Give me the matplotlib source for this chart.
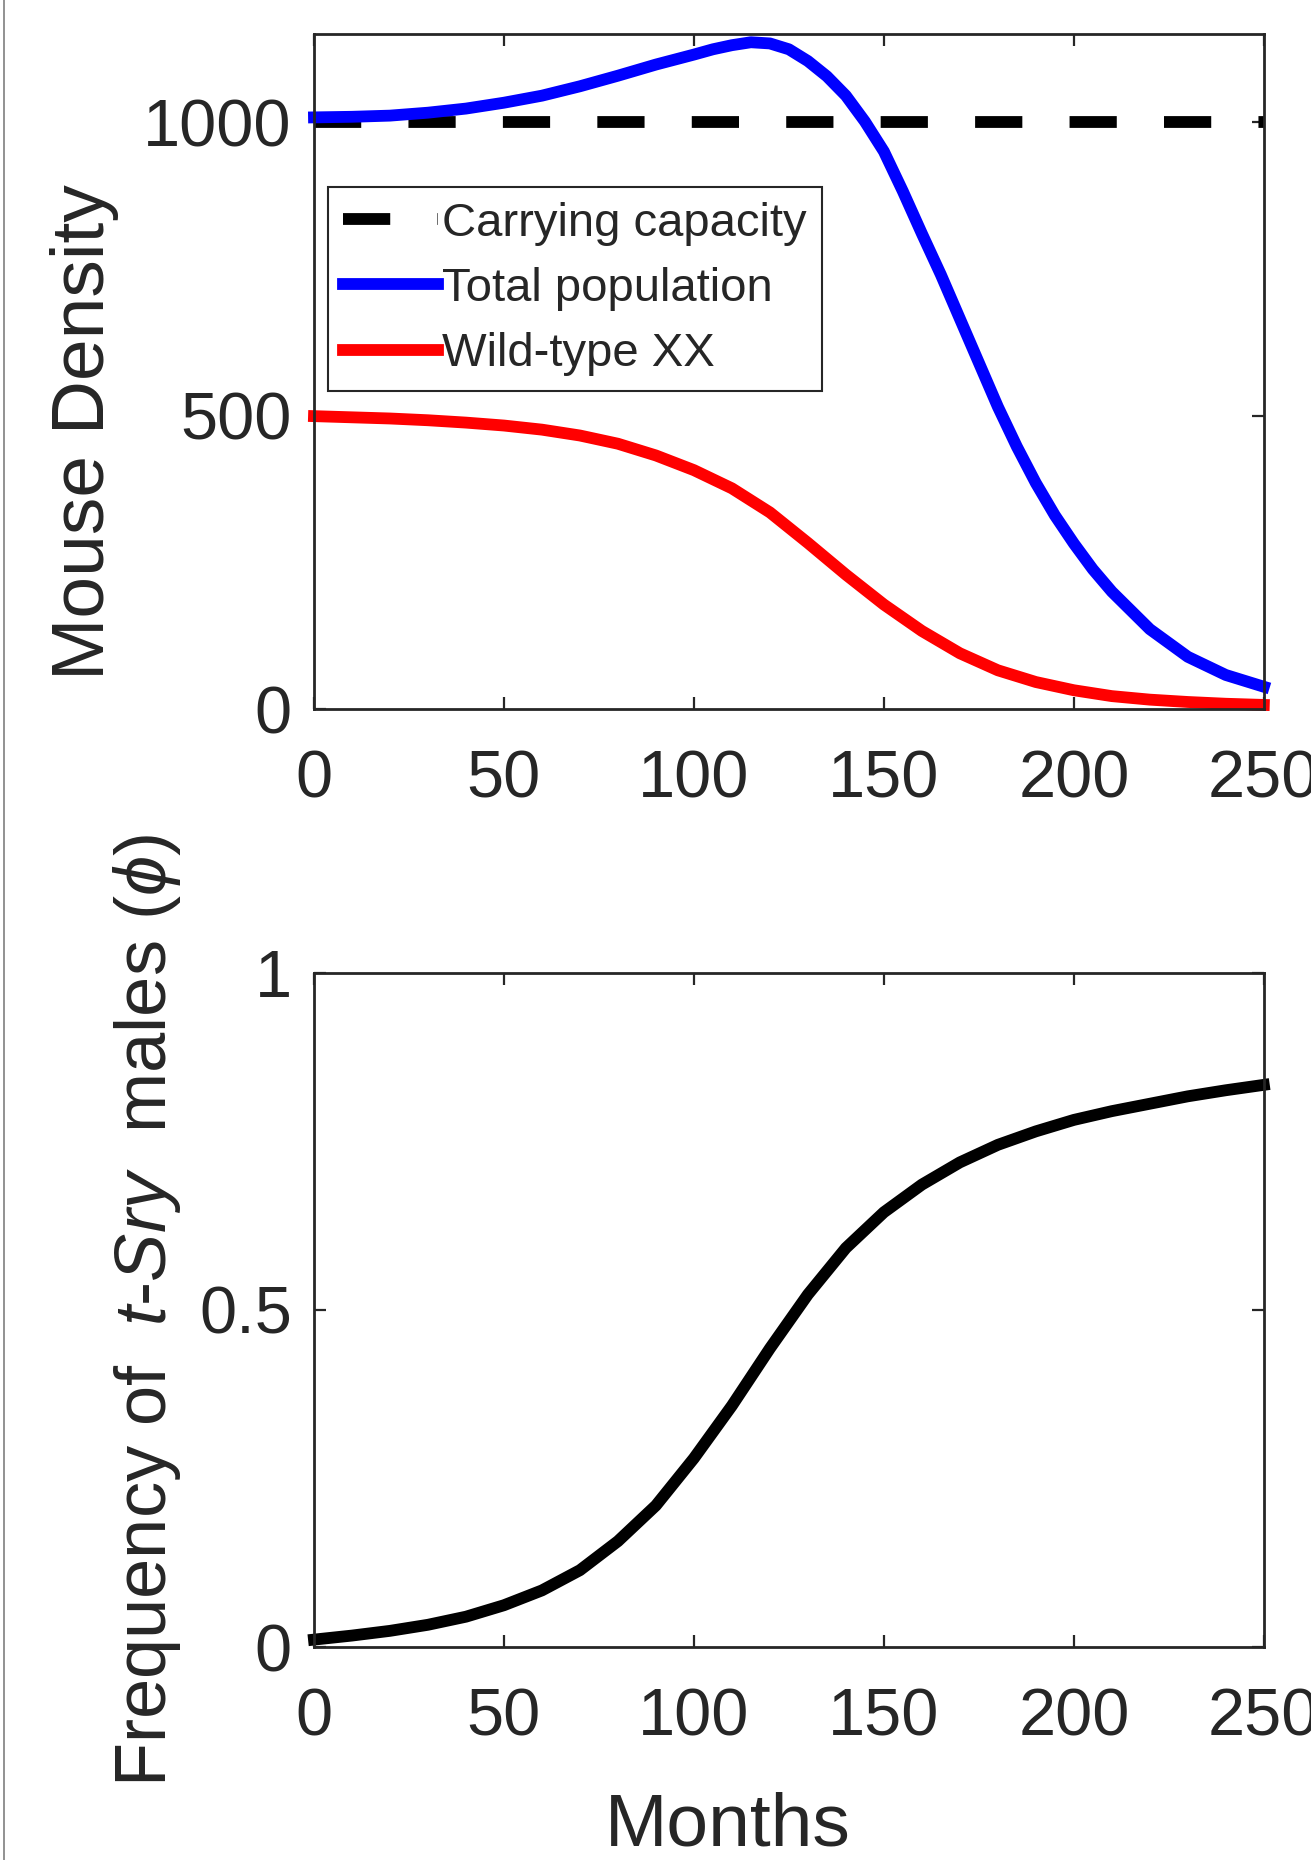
"""Mouse density and t-Sry male frequency over time
"""

import matplotlib
matplotlib.use('Agg')
import matplotlib.pyplot as plt
from matplotlib.lines import Line2D

# top panel: mouse density
months_total = [0, 10, 20, 30, 40, 50, 60, 70, 80, 90, 100, 105, 110, 115, 120,
                125, 130, 135, 140, 145, 150, 155, 160, 165, 170, 175, 180, 185,
                190, 195, 200, 205, 210, 220, 230, 240, 250]
total_population = [1008, 1009, 1011, 1016, 1023, 1033, 1045, 1061, 1079, 1098,
                    1115, 1124, 1131, 1136, 1134, 1124, 1104, 1078, 1045, 1001,
                    950, 882, 810, 740, 665, 590, 515, 447, 385, 330, 282, 238,
                    200, 136, 89, 58, 38]

months_wild = [0, 10, 20, 30, 40, 50, 60, 70, 80, 90, 100, 110, 120, 130, 140,
               150, 160, 170, 180, 190, 200, 210, 220, 230, 240, 250]
wild_type_xx = [499, 497, 495, 492, 488, 483, 476, 466, 452, 432, 407, 376, 335,
                283, 229, 178, 133, 95, 66, 46, 32, 22, 16, 12, 9, 7]

capacity_months = [0, 250]
carrying_capacity = [1000, 1000]

# bottom panel: frequency of t-Sry males
months_freq = [0, 10, 20, 30, 40, 50, 60, 70, 80, 90, 100, 110, 120, 130, 140,
               150, 160, 170, 180, 190, 200, 210, 220, 230, 240, 250]
tsry_freq = [0.011, 0.017, 0.024, 0.033, 0.045, 0.062, 0.084, 0.114, 0.157,
             0.210, 0.280, 0.358, 0.443, 0.523, 0.592, 0.645, 0.686, 0.719,
             0.745, 0.765, 0.782, 0.795, 0.806, 0.817, 0.826, 0.834]

x_ticks = [0, 50, 100, 150, 200, 250]
density_ticks = [0, 500, 1000]
freq_ticks = [0, 0.5, 1]

TEXT = '#262626'
plt.rcParams['font.family'] = ['Liberation Sans', 'DejaVu Sans']
plt.rcParams['mathtext.fontset'] = 'custom'
plt.rcParams['mathtext.rm'] = 'Liberation Sans'
plt.rcParams['mathtext.it'] = 'Liberation Sans:italic'
plt.rcParams['text.color'] = TEXT
plt.rcParams['axes.labelcolor'] = TEXT

fig = plt.figure(figsize=(13.11, 18.6), dpi=100)
ax1 = fig.add_axes([0.2395, 0.6188, 0.7245, 0.3629])
ax2 = fig.add_axes([0.2395, 0.1145, 0.7245, 0.3624])


def style_axes(ax):
    for spine in ax.spines.values():
        spine.set_color(TEXT)
        spine.set_linewidth(2)
    ax.tick_params(direction='in', top=True, right=True, length=8.5,
                   width=1.6, color=TEXT, labelsize=48, labelcolor=TEXT)
    ax.tick_params(axis='x', pad=29)
    ax.tick_params(axis='y', pad=16)
    ax.set_xlim(0, 250)
    ax.set_xticks(x_ticks)


LW = 8.5
ax1.plot(capacity_months, carrying_capacity, color='black', lw=LW,
         dashes=(4.0, 4.0), label='Carrying capacity', clip_on=False)
ax1.plot(months_total, total_population, color='blue', lw=LW,
         label='Total population', clip_on=False, solid_joinstyle='round')
ax1.plot(months_wild, wild_type_xx, color='red', lw=LW,
         label='Wild-type XX', clip_on=False, solid_joinstyle='round')
style_axes(ax1)
ax1.set_ylim(0, 1150)
ax1.set_yticks(density_ticks)
ax1.set_ylabel('Mouse Density', fontsize=54)
ax1.yaxis.set_label_coords(-0.205, 0.41)
leg = ax1.legend(loc='upper left', bbox_to_anchor=(0.0148, 0.774), fontsize=34,
                 frameon=True, fancybox=False, framealpha=1, borderpad=0.32,
                 labelspacing=0.45, handlelength=2.0, handletextpad=0.1,
                 borderaxespad=0)
leg.get_frame().set_edgecolor(TEXT)
leg.get_frame().set_linewidth(1.5)

ax2.plot(months_freq, tsry_freq, color='black', lw=LW, clip_on=False,
         solid_joinstyle='round')
style_axes(ax2)
ax2.set_ylim(0, 1)
ax2.set_yticks(freq_ticks)
ax2.set_yticklabels(['0', '0.5', '1'])
ax2.set_ylabel(r'Frequency of  $\mathit{t}$-$\mathit{Sry}$  males ($\phi$)',
               fontsize=52)
ax2.yaxis.set_label_coords(-0.138, 0.5)
ax2.set_xlabel('Months', fontsize=54)
ax2.xaxis.set_label_coords(0.436, -0.215)

# thin frame line at the left edge of the figure
fig.add_artist(Line2D([3.5 / 1311, 3.5 / 1311], [0, 1], color='#7f7f7f', lw=1.2))

fig.savefig('out.png', dpi=100)
